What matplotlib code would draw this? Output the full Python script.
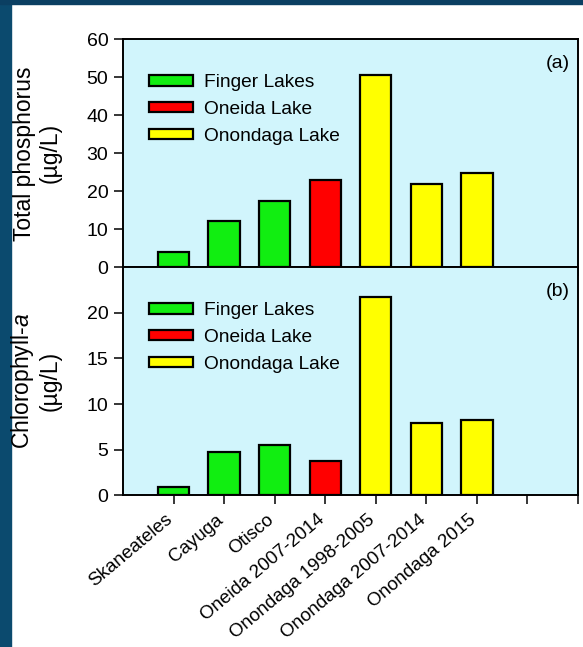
import numpy as np
import matplotlib.pyplot as plt
from matplotlib.patches import Patch, Rectangle

plt.switch_backend('agg')
plt.rcParams.update({'font.family': ['Liberation Sans', 'DejaVu Sans'],
                     'font.size': 13.5,
                     'mathtext.fontset': 'custom',
                     'mathtext.it': 'Liberation Sans:italic',
                     'mathtext.rm': 'Liberation Sans'})

# data
categories = ["Skaneateles", "Cayuga", "Otisco", "Oneida 2007-2014",
              "Onondaga 1998-2005", "Onondaga 2007-2014", "Onondaga 2015"]
groups = ["Finger Lakes", "Finger Lakes", "Finger Lakes", "Oneida Lake",
          "Onondaga Lake", "Onondaga Lake", "Onondaga Lake"]
tp = [4.0, 12.3, 17.4, 22.9, 50.6, 21.9, 24.8]
chla = [0.9, 4.7, 5.5, 3.8, 21.7, 7.9, 8.2]

group_names = ["Finger Lakes", "Oneida Lake", "Onondaga Lake"]
group_colors = {"Finger Lakes": "#11ee11", "Oneida Lake": "#ff0000",
                "Onondaga Lake": "#ffff00"}
bg = "#d1f5fc"

fig = plt.figure(figsize=(5.83, 6.47), dpi=100)
# dark frame of the slide
fig.add_artist(Rectangle((0, 0), 11 / 583, 1, transform=fig.transFigure,
                         color="#0b4a6e", zorder=-5))
fig.add_artist(Rectangle((0, 1 - 4 / 647), 1, 4 / 647, transform=fig.transFigure,
                         color="#0b3f62", zorder=-5))

ax1 = fig.add_axes([0.211, 0.5869, 0.7804, 0.3524])
ax2 = fig.add_axes([0.211, 0.2345, 0.7804, 0.3524])

x = np.arange(1, len(categories) + 1)
cols = [group_colors[g] for g in groups]

for ax, vals, ymax, yt, lab, tag in [
        (ax1, tp, 60, np.arange(0, 61, 10), "Total phosphorus\n(µg/L)", "(a)"),
        (ax2, chla, 25, np.arange(0, 21, 5), "Chlorophyll-$\\it{a}$\n(µg/L)", "(b)")]:
    ax.set_facecolor(bg)
    ax.bar(x, vals, width=0.62, color=cols, edgecolor='black', linewidth=1.6, zorder=3)
    ax.set_xlim(0, 9)
    ax.set_ylim(0, ymax)
    ax.set_yticks(yt)
    ax.set_xticks(np.arange(1, 10))
    ax.tick_params(direction='out', length=6.5, width=1.1, pad=4, labelsize=14)
    for s in ax.spines.values():
        s.set_linewidth(1.4)
    ax.set_ylabel(lab, fontsize=16.5, linespacing=1.15)
    ax.yaxis.set_label_coords(-0.135, 0.5)
    ax.text(0.982, 0.93, tag, transform=ax.transAxes, ha='right', va='top',
            fontsize=14)
    handles = [Patch(facecolor=group_colors[g], edgecolor='black', linewidth=1.6)
               for g in group_names]
    ax.legend(handles, group_names, loc='upper left', bbox_to_anchor=(0.058, 0.846),
              frameon=False, borderpad=0, borderaxespad=0, handlelength=2.3,
              handleheight=0.45, handletextpad=0.55, labelspacing=0.5,
              fontsize=13.8)

ax1.set_xticklabels([])
ax2.tick_params(axis='x', pad=12)
ax2.set_xticklabels(categories + ["", ""], rotation=40, ha='right', va='baseline',
                    rotation_mode='anchor', fontsize=13.5)

plt.savefig("out.png", dpi=100)
